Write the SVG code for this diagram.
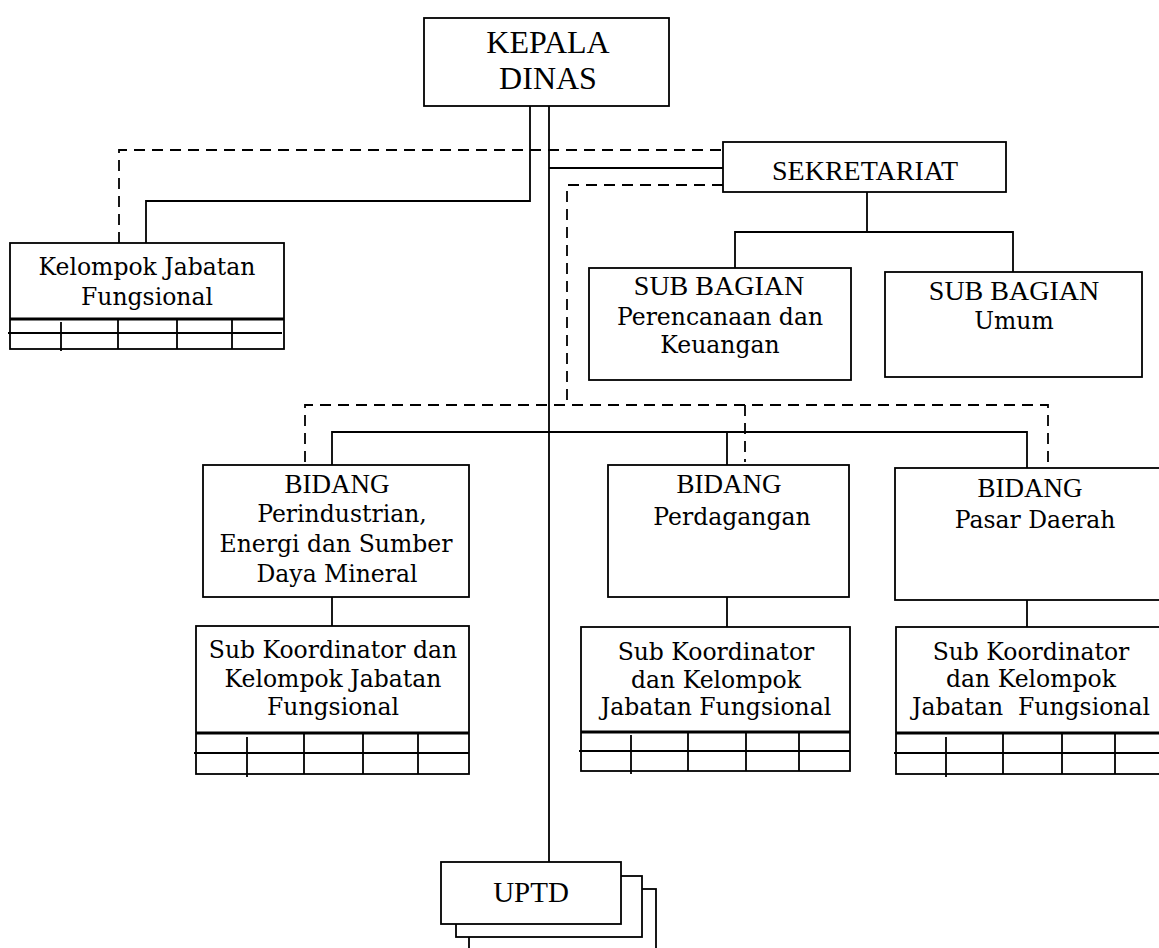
<svg xmlns="http://www.w3.org/2000/svg" width="1159" height="948" viewBox="0 0 1159 948">
<style>
.box{fill:#fff;stroke:#000;stroke-width:1.8}
.ln{fill:none;stroke:#000;stroke-width:1.8}
.dash{fill:none;stroke:#000;stroke-width:1.8;stroke-dasharray:11 7}
.thick{fill:none;stroke:#000;stroke-width:3}
.cap{font-family:"Liberation Serif","Times New Roman",serif;text-anchor:middle;fill:#000}
.lc{font-family:"DejaVu Serif",serif;font-size:23.5px;text-anchor:middle;fill:#000;white-space:pre}
</style>
<rect width="1159" height="948" fill="#fff"/>
<g id="connectors">
<path class="dash" d="M119,243 V150 H723"/>
<path class="ln" d="M530,106 V201 H146 V243"/>
<path class="ln" d="M549,106 V862"/>
<path class="ln" d="M549,168 H723"/>
<path class="dash" d="M723,185 H567 V405"/>
<path class="dash" d="M305,462 V405 H1048 V462"/>
<path class="dash" d="M745,405 V462"/>
<path class="ln" d="M332,465 V432 H1027 V468"/>
<path class="ln" d="M727,432 V465"/>
<path class="ln" d="M867,192 V232"/>
<path class="ln" d="M735,268 V232 H1013 V272"/>
<path class="ln" d="M332,597 V626"/>
<path class="ln" d="M727,597 V627"/>
<path class="ln" d="M1027,600 V627"/>
</g>
<g id="kepala-dinas">
<rect class="box" x="424" y="18" width="245" height="88"/>
<text class="cap" x="548" y="53" font-size="32">KEPALA</text>
<text class="cap" x="548" y="89" font-size="32">DINAS</text>
</g>
<g id="sekretariat">
<rect class="box" x="723" y="142" width="283" height="50"/>
<text class="cap" x="865" y="180" font-size="28">SEKRETARIAT</text>
</g>
<g id="subbag-perencanaan">
<rect class="box" x="589" y="268" width="262" height="112"/>
<text class="cap" x="719" y="295" font-size="28">SUB BAGIAN</text>
<text class="lc" x="720" y="325">Perencanaan dan</text>
<text class="lc" x="720" y="353">Keuangan</text>
</g>
<g id="subbag-umum">
<rect class="box" x="885" y="272" width="257" height="105"/>
<text class="cap" x="1014" y="300" font-size="28">SUB BAGIAN</text>
<text class="lc" x="1014" y="329">Umum</text>
</g>
<g id="kelompok-jabatan">
<rect class="box" x="10" y="243" width="274" height="106"/>
<path class="thick" d="M10,319 H284"/>
<path class="ln" d="M8,333 H282 M61,322 V351 M118,319 V349 M177,319 V349 M232,319 V349"/>
<text class="lc" x="147" y="275">Kelompok Jabatan</text>
<text class="lc" x="147" y="305">Fungsional</text>
</g>
<g id="bidang-perindustrian">
<rect class="box" x="203" y="465" width="266" height="132"/>
<text class="cap" x="337" y="493" font-size="27">BIDANG</text>
<text class="lc" x="342" y="522">Perindustrian,</text>
<text class="lc" x="336" y="552">Energi dan Sumber</text>
<text class="lc" x="337" y="582">Daya Mineral</text>
</g>
<g id="subkoor-perindustrian">
<rect class="box" x="196" y="626" width="273" height="148"/>
<path class="thick" d="M196,733 H469"/>
<path class="ln" d="M194,753 H469 M247,737 V777 M304,733 V774 M363,733 V774 M418,733 V774"/>
<text class="lc" x="333" y="658">Sub Koordinator dan</text>
<text class="lc" x="333" y="687">Kelompok Jabatan</text>
<text class="lc" x="333" y="715">Fungsional</text>
</g>
<g id="bidang-perdagangan">
<rect class="box" x="608" y="465" width="241" height="132"/>
<text class="cap" x="729" y="493" font-size="27">BIDANG</text>
<text class="lc" x="732" y="525">Perdagangan</text>
</g>
<g id="subkoor-perdagangan">
<rect class="box" x="581" y="627" width="269" height="144"/>
<path class="thick" d="M581,732 H850"/>
<path class="ln" d="M579,751 H850 M631,735 V774 M688,732 V771 M746,732 V771 M799,732 V771"/>
<text class="lc" x="716" y="660">Sub Koordinator</text>
<text class="lc" x="716" y="688">dan Kelompok</text>
<text class="lc" x="716" y="715">Jabatan Fungsional</text>
</g>
<g id="bidang-pasar">
<rect class="box" x="895" y="468" width="270" height="132"/>
<text class="cap" x="1030" y="497" font-size="27">BIDANG</text>
<text class="lc" x="1035" y="528">Pasar Daerah</text>
</g>
<g id="subkoor-pasar">
<rect class="box" x="896" y="627" width="270" height="147"/>
<path class="thick" d="M896,733 H1166"/>
<path class="ln" d="M894,753 H1166 M946,737 V777 M1003,733 V774 M1062,733 V774 M1115,733 V774"/>
<text class="lc" x="1031" y="660">Sub Koordinator</text>
<text class="lc" x="1031" y="687">dan Kelompok</text>
<text class="lc" x="1031" y="715">Jabatan  Fungsional</text>
</g>
<g id="uptd">
<rect class="box" x="469" y="889" width="187" height="70"/>
<rect class="box" x="456" y="876" width="186" height="61"/>
<rect class="box" x="441" y="862" width="180" height="62"/>
<text class="cap" x="531" y="902" font-size="29">UPTD</text>
</g>
</svg>
